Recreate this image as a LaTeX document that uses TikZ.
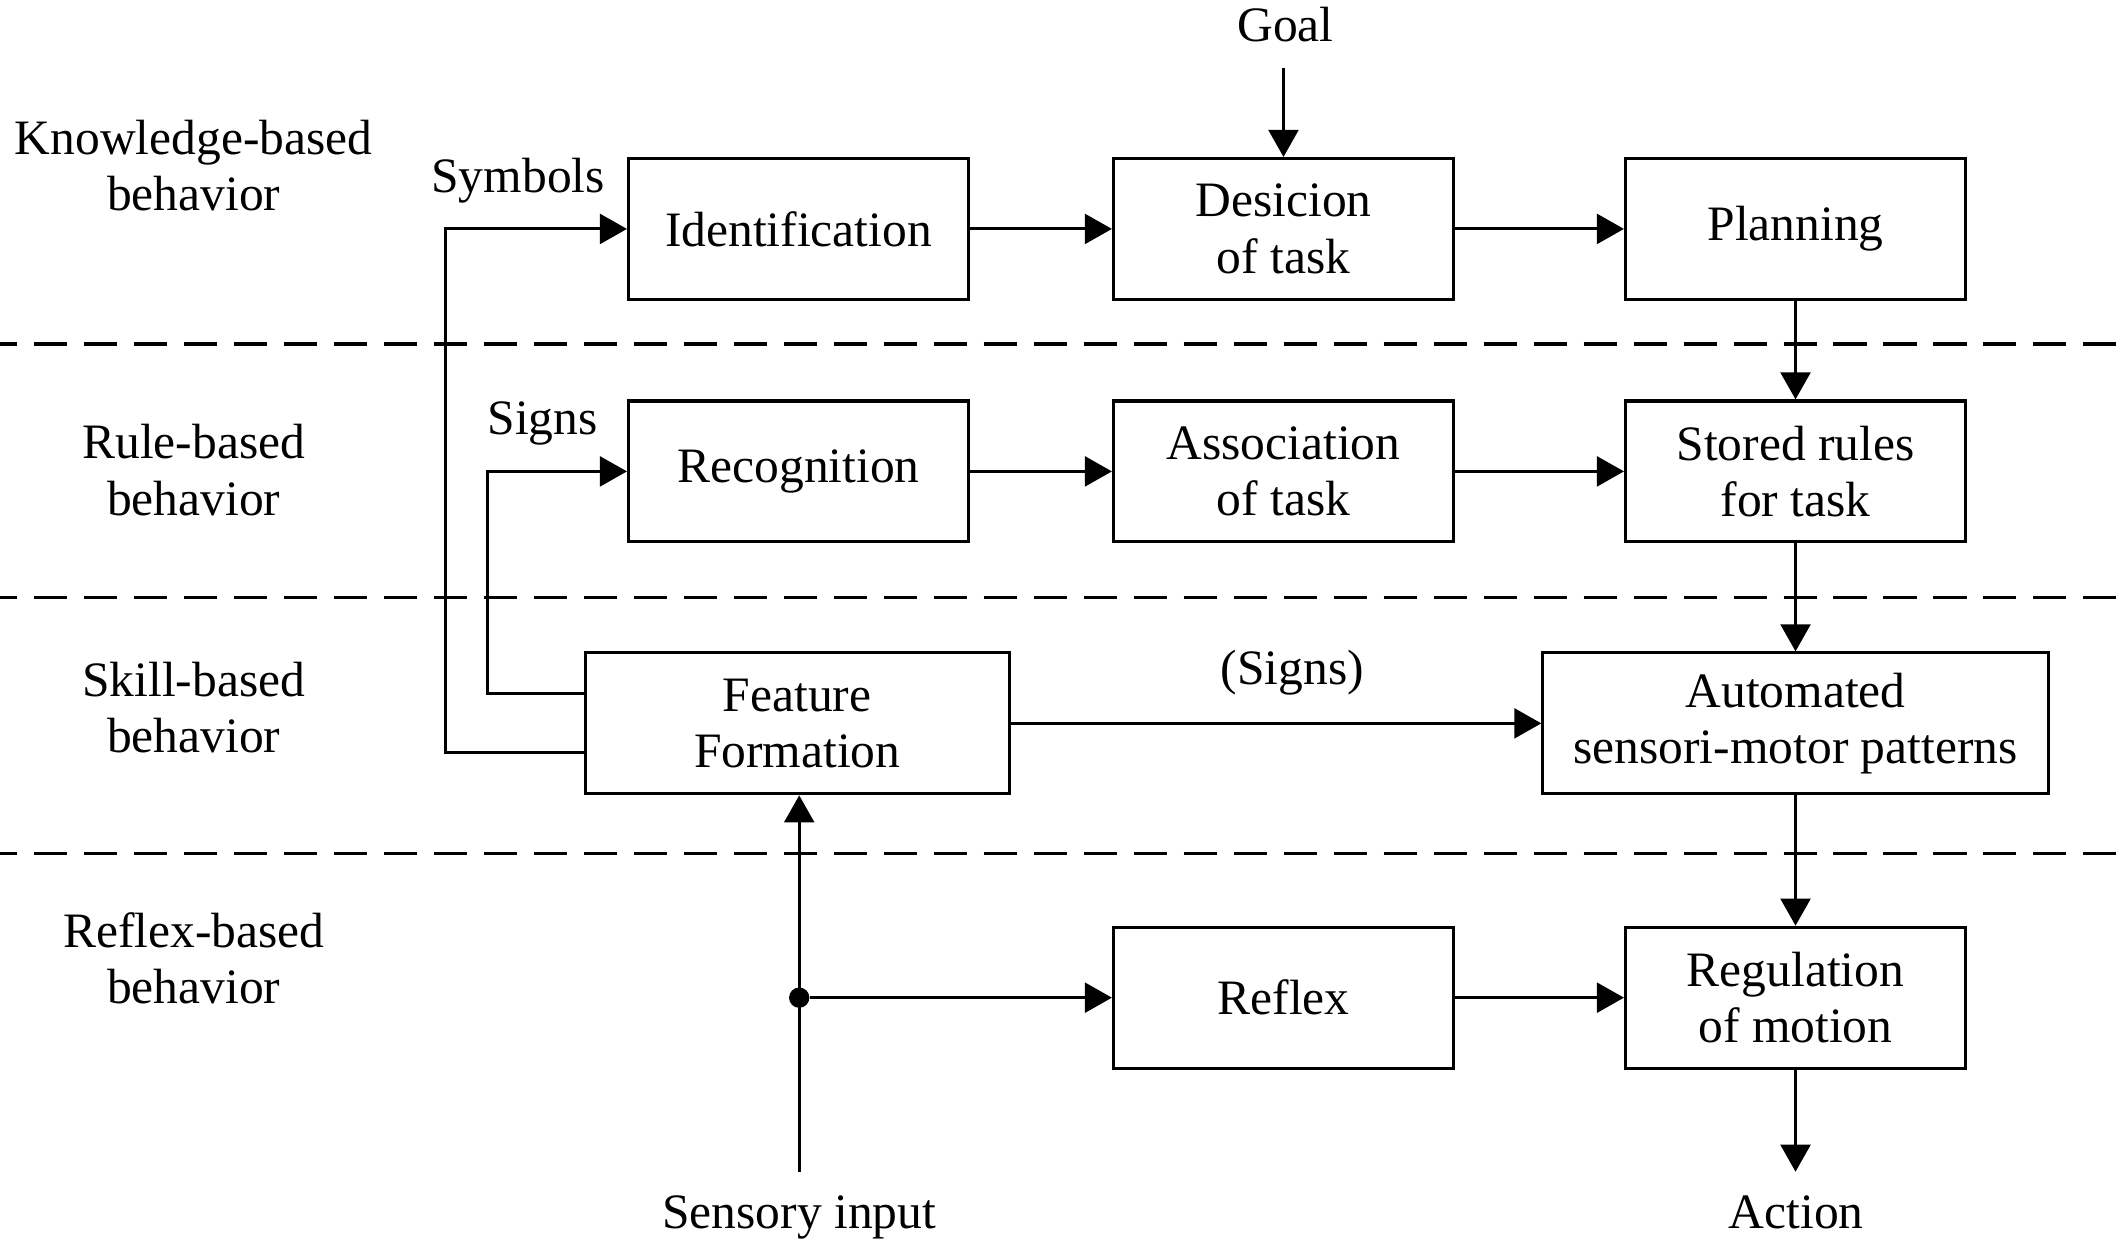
\documentclass[tikz,border=0pt]{standalone}
\usepackage{fontspec}
\setmainfont{Liberation Serif}
\usetikzlibrary{arrows.meta}
\tikzset{
        box/.style={draw, line width=0.65pt, minimum width=2.51cm, minimum height=1.04cm, align=center, inner sep=0pt},
        arr/.style={line width=0.65pt, -{Triangle[length=0.2cm, width=0.22cm]}},
        wire/.style={line width=0.65pt},
        lvl/.style={align=center},
        divider/.style={line width=0.7pt, dash pattern=on 0.244cm off 0.125cm, dash phase=0.118cm},
        junction/.style={circle, fill, inner sep=0pt, minimum size=0.15cm}
}
\begin{document}
\begin{tikzpicture}[font=\fontsize{10.4}{11.8}\selectfont]
        \useasboundingbox (0,0) rectangle (15.68,9.20);
        \foreach \y in {6.66,4.79,2.90} \draw[divider] (0,\y) -- (15.68,\y);
        \node[lvl] (knowl) at (1.43,7.975) {Knowledge-based\\behavior};
        \node[lvl] (rule) at (1.43,5.73) {Rule-based\\behavior};
        \node[lvl] (skill) at (1.43,3.975) {Skill-based\\behavior};
        \node[lvl] (refl) at (1.43,2.125) {Reflex-based\\behavior};
        \node[box] (ident) at (5.895,7.51) {Identification};
        \node[box] (dec) at (9.475,7.51) {Desicion\\of task};
        \node[box] (plan) at (13.255,7.51) {Planning};
        \node[box] (recog) at (5.895,5.72) {Recognition};
        \node[box] (assoc) at (9.475,5.72) {Association\\of task};
        \node[box] (rules) at (13.255,5.72) {Stored rules\\for task};
        \node[box, minimum width=3.13cm] (feat) at (5.885,3.86) {Feature\\Formation};
        \node[box, minimum width=3.73cm] (auto) at (13.255,3.86) {Automated\\sensori-motor patterns};
        \node[box] (reflex) at (9.475,1.835) {Reflex};
        \node[box] (reg) at (13.255,1.835) {Regulation\\of motion};
        \node[anchor=base] (goal) at (9.49,8.89) {Goal};
        \node[anchor=base] (sym) at (3.825,7.78) {Symbols};
        \node[anchor=base] (sgn) at (4.005,5.99) {Signs};
        \node[anchor=base] (sgn2) at (9.54,4.146) {(Signs)};
        \node[anchor=base] (sens) at (5.90,0.13) {Sensory input};
        \node[anchor=base] (act) at (13.26,0.13) {Action};
        \coordinate (gtop) at (9.475,8.70);
        \coordinate (sin) at (5.90,0.55);
        \coordinate (aout) at (13.255,0.55);
        \node[junction] (jn) at (5.90,1.835) {};
        \draw[arr] (gtop) -- (dec);
        \draw[arr] (ident) -- (dec);
        \draw[arr] (dec) -- (plan);
        \draw[arr] (recog) -- (assoc);
        \draw[arr] (assoc) -- (rules);
        \draw[arr] (plan) -- (rules);
        \draw[arr] (rules) -- (auto);
        \draw[arr] (auto) -- (reg);
        \draw[arr] (reg) -- (aout);
        \draw[arr] (feat) -- (auto);
        \draw[arr] ([yshift=-0.216cm]feat.west) -- ++(-1.02,0) |- (ident.west);
        \draw[arr] ([yshift=0.22cm]feat.west) -- ++(-0.71,0) |- (recog.west);
        \draw[arr] (sin) -- (sin |- feat.south);
        \draw[arr] (jn) -- (reflex);
        \draw[arr] (reflex) -- (reg);
\end{tikzpicture}
\end{document}
